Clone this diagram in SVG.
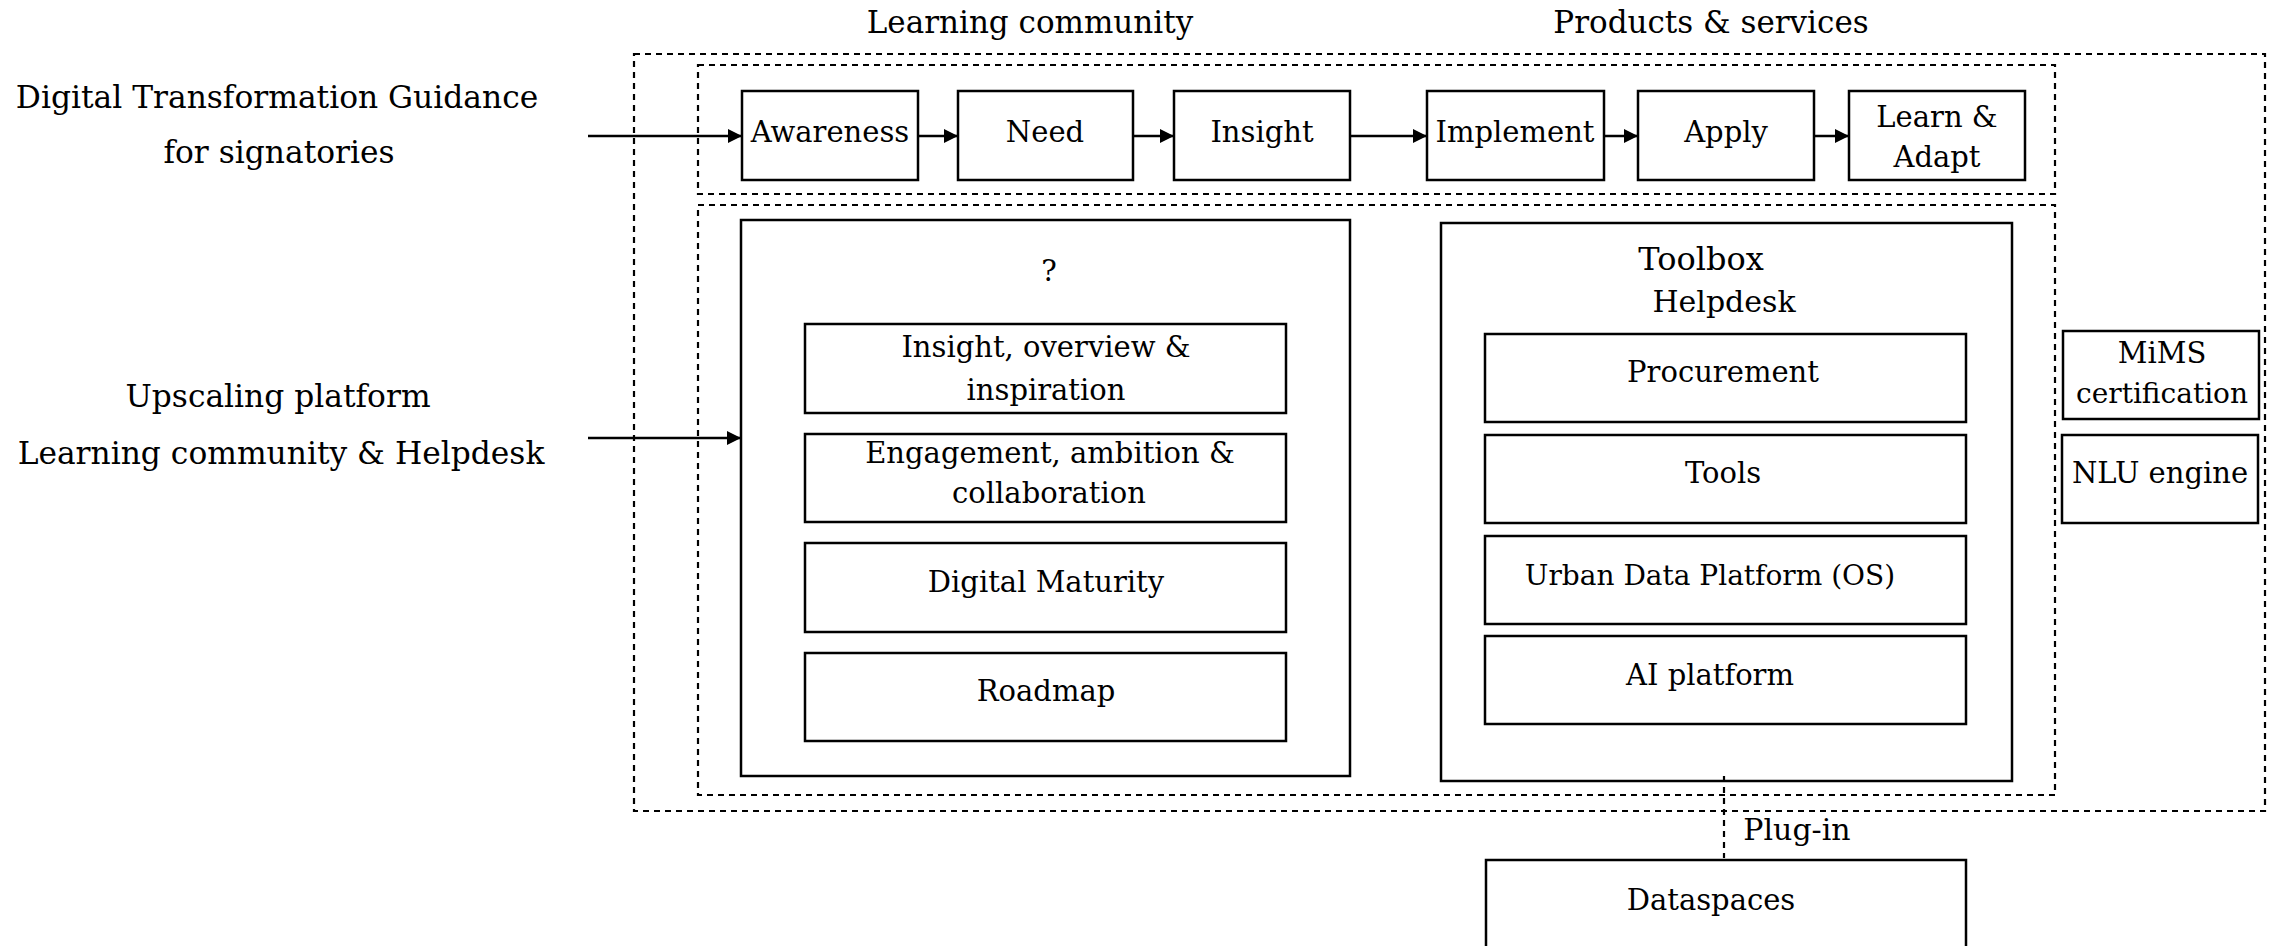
<svg xmlns="http://www.w3.org/2000/svg" width="2275" height="946" viewBox="0 0 2275 946">
<defs>
<style>
.box{fill:#fff;stroke:#000;stroke-width:2.5}
.dash{fill:none;stroke:#000;stroke-width:2.2;stroke-dasharray:6 5}
.t{font-family:"DejaVu Serif","Liberation Serif",serif;font-size:29px;fill:#000;text-anchor:middle}
.h{font-size:31px}
.l{font-size:31.3px}
.c{fill:none;stroke:#000;stroke-width:2.5}
</style>
<marker id="ah" viewBox="0 0 14 14" refX="14" refY="7" markerWidth="14" markerHeight="14" markerUnits="userSpaceOnUse" orient="auto">
<path d="M0,0 L14,7 L0,14 Z" fill="#000"/>
</marker>
</defs>
<rect width="2275" height="946" fill="#fff"/>

<g id="containers">
<rect id="outer" class="dash" x="634" y="54" width="1631" height="757"/>
<rect id="journey" class="dash" x="698" y="65" width="1357" height="129"/>
<rect id="platform" class="dash" x="698" y="205" width="1357" height="590"/>
</g>

<g id="labels">
<text class="t h" x="1030" y="33">Learning community</text>
<text class="t h" x="1711" y="33">Products &amp; services</text>
<text class="t l" x="277" y="108">Digital Transformation Guidance</text>
<text class="t l" x="279" y="163">for signatories</text>
<text class="t l" x="278" y="407">Upscaling platform</text>
<text class="t l" x="281" y="464">Learning community &amp; Helpdesk</text>
</g>

<g id="node-awareness"><rect class="box" x="742" y="91" width="176" height="89"/><text class="t" x="830" y="142">Awareness</text></g>
<g id="node-need"><rect class="box" x="958" y="91" width="175" height="89"/><text class="t" x="1045" y="142">Need</text></g>
<g id="node-insight"><rect class="box" x="1174" y="91" width="176" height="89"/><text class="t" x="1262" y="142">Insight</text></g>
<g id="node-implement"><rect class="box" x="1427" y="91" width="177" height="89"/><text class="t" x="1515" y="142">Implement</text></g>
<g id="node-apply"><rect class="box" x="1638" y="91" width="176" height="89"/><text class="t" x="1726" y="142">Apply</text></g>
<g id="node-learn"><rect class="box" x="1849" y="91" width="176" height="89"/><text class="t" x="1937" y="127">Learn &amp;</text><text class="t" x="1937" y="167">Adapt</text></g>

<g id="node-question">
<rect class="box" x="741" y="220" width="609" height="556"/>
<text class="t" x="1049" y="281">?</text>
</g>
<g id="node-insight-overview"><rect class="box" x="805" y="324" width="481" height="89"/><text class="t" x="1046" y="357">Insight, overview &amp;</text><text class="t" x="1046" y="400">inspiration</text></g>
<g id="node-engagement"><rect class="box" x="805" y="434" width="481" height="88"/><text class="t" x="1050" y="463">Engagement, ambition &amp;</text><text class="t" x="1049" y="503">collaboration</text></g>
<g id="node-maturity"><rect class="box" x="805" y="543" width="481" height="89"/><text class="t" x="1046" y="592">Digital Maturity</text></g>
<g id="node-roadmap"><rect class="box" x="805" y="653" width="481" height="88"/><text class="t" x="1046" y="701">Roadmap</text></g>

<g id="node-toolbox">
<rect class="box" x="1441" y="223" width="571" height="558"/>
<text class="t" style="font-size:32px" x="1701" y="270">Toolbox</text>
<text class="t" style="font-size:30px" x="1724" y="312">Helpdesk</text>
</g>
<g id="node-procurement"><rect class="box" x="1485" y="334" width="481" height="88"/><text class="t" x="1723" y="382">Procurement</text></g>
<g id="node-tools"><rect class="box" x="1485" y="435" width="481" height="88"/><text class="t" x="1723" y="483">Tools</text></g>
<g id="node-udp"><rect class="box" x="1485" y="536" width="481" height="88"/><text class="t" style="font-size:28px" x="1710" y="585">Urban Data Platform (OS)</text></g>
<g id="node-ai"><rect class="box" x="1485" y="636" width="481" height="88"/><text class="t" x="1710" y="685">AI platform</text></g>

<g id="node-mims"><rect class="box" x="2063" y="331" width="196" height="88"/><text class="t" x="2162" y="363">MiMS</text><text class="t" style="font-size:28px" x="2162" y="403">certification</text></g>
<g id="node-nlu"><rect class="box" x="2062" y="435" width="196" height="88"/><text class="t" x="2160" y="483">NLU engine</text></g>

<g id="node-dataspaces"><rect class="box" x="1486" y="860" width="480" height="110"/><text class="t" x="1711" y="910">Dataspaces</text></g>

<g id="connectors">
<line class="c" x1="588" y1="136" x2="742" y2="136" marker-end="url(#ah)"/>
<line class="c" x1="918" y1="136" x2="958" y2="136" marker-end="url(#ah)"/>
<line class="c" x1="1133" y1="136" x2="1174" y2="136" marker-end="url(#ah)"/>
<line class="c" x1="1350" y1="136" x2="1427" y2="136" marker-end="url(#ah)"/>
<line class="c" x1="1604" y1="136" x2="1638" y2="136" marker-end="url(#ah)"/>
<line class="c" x1="1814" y1="136" x2="1849" y2="136" marker-end="url(#ah)"/>
<line class="c" x1="588" y1="438" x2="741" y2="438" marker-end="url(#ah)"/>
<line class="dash" x1="1724" y1="776" x2="1724" y2="858"/>
<text class="t" style="font-size:30px" x="1797" y="840">Plug-in</text>
</g>
</svg>
